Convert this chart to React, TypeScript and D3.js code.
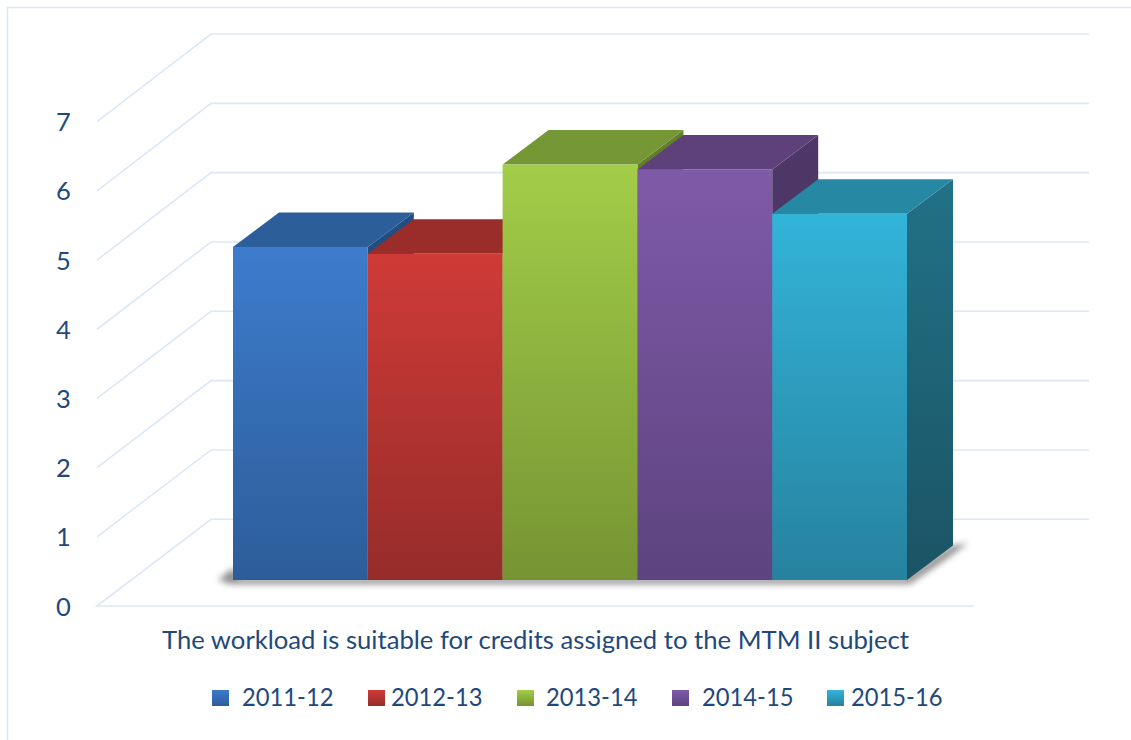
import React from "react";
import * as d3 from "d3";

const categories = ["2011-12", "2012-13", "2013-14", "2014-15", "2015-16"];
const values = [4.81, 4.71, 6.0, 5.93, 5.29];
const ticks = [0, 1, 2, 3, 4, 5, 6, 7];
const title = "The workload is suitable for credits assigned to the MTM II subject";
const frontTop = ["#3d7ccc", "#cf3b37", "#a2cd48", "#7f5aa8", "#33b4d9"];
const frontBottom = ["#2c5d99", "#962c2a", "#769433", "#5d437f", "#26829f"];
const topFace = ["#2c5e99", "#9a2c2a", "#769735", "#5e417b", "#2688a3"];
const sideTop = ["#234e82", "#7f2523", "#628029", "#4f3869", "#227187"];
const sideBottom = ["#1d426f", "#6a1f1d", "#526b22", "#422f58", "#1a5464"];
const legendSwatchX = [212, 368, 517, 672, 827];
const legendTextX = [242, 391, 546, 702, 851];

const TEXT = "#1f497d";
const GRID = "#dde7f5";
const FONT = "Lato, 'Open Sans', sans-serif";

export default function App() {
  const yBack = d3.scaleLinear().domain([0, 7]).range([519.3, 34]);
  const yFront = d3.scaleLinear().domain([0, 7]).range([606, 121.7]);
  const yBar = d3.scaleLinear().domain([0, 7]).range([580, 95.3]);
  const x = d3.scaleBand().domain(categories).range([233, 907]).padding(0);
  const dx = 46;
  const dy = 34.5;
  const backLeft = 211;
  const backRight = 1089;
  const frontLeft = 97;
  const frontRight = 974;
  const line = d3.line();

  return (
    <svg
      width={1131}
      height={740}
      style={{ position: "absolute", left: 0, top: 0, background: "#fff" }}
      fontFamily={FONT}
    >
      <defs>
        {categories.map((c, i) => (
          <React.Fragment key={c}>
            <linearGradient id={`f${i}`} x1="0" y1="0" x2="0" y2="1">
              <stop offset="0" stopColor={frontTop[i]} />
              <stop offset="1" stopColor={frontBottom[i]} />
            </linearGradient>
            <linearGradient id={`s${i}`} x1="0" y1="0" x2="0" y2="1">
              <stop offset="0" stopColor={sideTop[i]} />
              <stop offset="1" stopColor={sideBottom[i]} />
            </linearGradient>
          </React.Fragment>
        ))}
        <filter id="blur" x="-10%" y="-50%" width="120%" height="200%">
          <feGaussianBlur stdDeviation="3.2" />
        </filter>
      </defs>

      <path d="M7.5 740V7.5H1131" fill="none" stroke={GRID} strokeWidth={1.6} />

      {ticks.map((t) => (
        <path
          key={t}
          d={
            line(
              t === 0
                ? [
                    [frontRight, yFront(t)],
                    [frontLeft, yFront(t)],
                    [backLeft, yBack(t)],
                    [backRight, yBack(t)],
                  ]
                : [
                    [frontLeft, yFront(t)],
                    [backLeft, yBack(t)],
                    [backRight, yBack(t)],
                  ]
            ) as string
          }
          fill="none"
          stroke={GRID}
          strokeWidth={1.6}
        />
      ))}

      {ticks.map((t) => (
        <text
          key={t}
          x={63.5}
          y={yFront(t) + 9.6}
          textAnchor="middle"
          fontSize={25.5}
          fill={TEXT}
        >
          {t}
        </text>
      ))}

      <path
        d={
          line([
            [218, 580],
            [233, 568],
            [240, 578],
            [905, 578],
            [951, 546],
            [968, 543],
            [945, 560],
            [910, 584],
            [230, 584],
          ]) as string
        }
        fill="#6a6a6a"
        filter="url(#blur)"
        opacity={0.75}
      />

      {categories.map((c, i) => {
        const x0 = x(c) as number;
        const x1 = x0 + x.bandwidth();
        const yt = yBar(values[i]);
        const yb = yBar(0);
        return (
          <g key={c}>
            <path
              d={
                line([
                  [x1, yb],
                  [x1 + dx, yb - dy],
                  [x1 + dx, yt - dy],
                  [x1, yt],
                ]) as string
              }
              fill={`url(#s${i})`}
            />
            <path
              d={
                line([
                  [x0, yt],
                  [x0 + dx, yt - dy],
                  [x1 + dx, yt - dy],
                  [x1, yt],
                ]) as string
              }
              fill={topFace[i]}
            />
            <rect
              x={x0}
              y={yt}
              width={x.bandwidth()}
              height={yb - yt}
              fill={`url(#f${i})`}
            />
          </g>
        );
      })}

      <text
        x={162}
        y={649}
        fontSize={25.7}
        fill={TEXT}
        textLength={747}
        lengthAdjust="spacingAndGlyphs"
      >
        {title}
      </text>

      {categories.map((c, i) => (
        <g key={c}>
          <rect
            x={legendSwatchX[i]}
            y={690}
            width={17}
            height={16}
            fill={`url(#f${i})`}
          />
          <text
            x={legendTextX[i]}
            y={706}
            fontSize={25.5}
            fill={TEXT}
            textLength={91.5}
            lengthAdjust="spacingAndGlyphs"
          >
            {c}
          </text>
        </g>
      ))}
    </svg>
  );
}
